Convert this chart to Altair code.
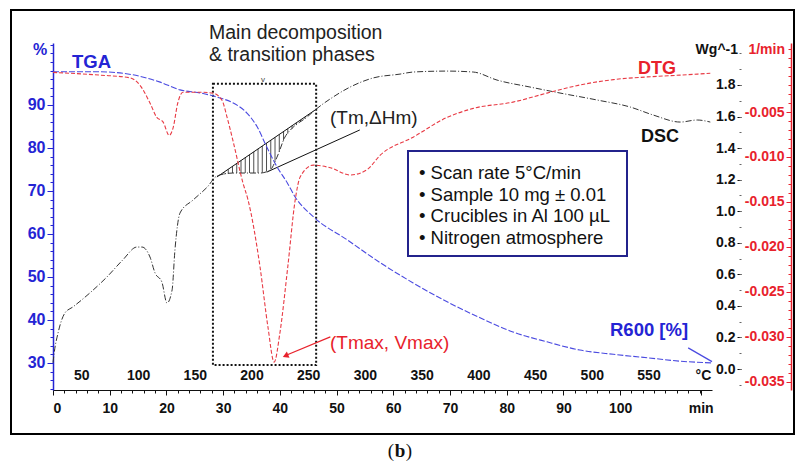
import altair as alt
import pandas as pd
import numpy as np

# ---------------- data ----------------
# TGA (% mass) vs time (min)
tga_time = [0, 8.3, 14.1, 18.9, 22.4, 25.9, 29.5, 31.7, 34.2, 36.0, 37.7, 39.5, 41.3, 42.7,
            45.9, 51.9, 57.7, 63.5, 69.5, 75.3, 81.1, 87.1, 92.9, 98.8, 104.8, 110.6, 116.2]
tga_pct = [97.7, 97.7, 97.0, 95.3, 93.5, 92.8, 91.6, 90.5, 88.1, 84.9, 80.2, 75.6, 71.9, 68.6,
           64.0, 58.6, 53.3, 48.6, 44.2, 40.5, 37.2, 34.9, 33.0, 32.0, 31.2, 30.4, 30.0]

# DTG (1/min) vs time (min)
dtg_time = [0, 8.3, 13.6, 15.3, 17.1, 18.3, 19.4, 20.5, 21.2, 22.0, 22.9, 25.9, 28.2, 29.8,
            30.7, 31.7, 33.5, 34.4, 36.5, 37.9, 39.0, 40.0, 41.4, 42.7, 43.6, 45.9, 48.9,
            52.4, 55.4, 57.7, 63.5, 69.5, 74.1, 81.1, 87.1, 92.9, 98.8, 104.8, 110.6, 115.9]
dtg_val = [-0.0006, -0.0009, -0.0012, -0.0020, -0.0040, -0.0056, -0.0061, -0.0076, -0.0067,
           -0.0040, -0.0028, -0.0028, -0.0029, -0.0037, -0.0056, -0.0081, -0.0129, -0.0148,
           -0.0222, -0.0289, -0.0328, -0.0296, -0.0222, -0.0148, -0.0122, -0.0109, -0.0112,
           -0.0120, -0.0114, -0.0098, -0.0078, -0.0056, -0.0046, -0.0039, -0.0029, -0.0020,
           -0.0014, -0.0011, -0.0009, -0.0007]

# DSC (W/g) vs time (min)
dsc_time = [0, 0.2, 0.9, 2.1, 3.5, 6.5, 9.5, 12.3, 14.8, 15.7, 17.1, 18.0, 19.2, 20.1, 21.0,
            21.5, 22.4, 24.7, 27.2, 28.9, 31.7, 36.5, 38.3, 39.5, 40.9, 42.2, 44.8, 46.2,
            49.4, 52.4, 56.4, 61.2, 63.5, 69.5, 74.1, 78.3, 84.1, 89.4, 95.9, 101.8, 105.8,
            110.6, 113.6, 115.9]
dsc_val = [0.04, 0.10, 0.23, 0.355, 0.393, 0.482, 0.583, 0.691, 0.773, 0.773, 0.710, 0.608,
           0.551, 0.418, 0.501, 0.754, 0.989, 1.071, 1.153, 1.223, 1.242, 1.242, 1.261, 1.343,
           1.470, 1.527, 1.597, 1.641, 1.724, 1.787, 1.844, 1.869, 1.882, 1.888, 1.882, 1.831,
           1.787, 1.749, 1.705, 1.660, 1.610, 1.565, 1.578, 1.565]

# tick labels
time_ticks = [0, 10, 20, 30, 40, 50, 60, 70, 80, 90, 100]
temp_ticks = [50, 100, 150, 200, 250, 300, 350, 400, 450, 500, 550]
pct_ticks = [30, 40, 50, 60, 70, 80, 90]
dsc_ticks = [0.0, 0.2, 0.4, 0.6, 0.8, 1.0, 1.2, 1.4, 1.6, 1.8]
dtg_ticks = [-0.005, -0.010, -0.015, -0.020, -0.025, -0.030, -0.035]

info_lines = ["\u2022 Scan rate 5\u00b0C/min", "\u2022 Sample 10 mg \u00b1 0.01",
              "\u2022 Crucibles in Al 100 \u00b5L", "\u2022 Nitrogen atmosphere"]

# tangent baseline for the melting peak (Tm, dHm)
base_time = [28.9, 46.2]
base_val = [1.217, 1.641]

# ---------------- layout / style ----------------
W, H = 659, 347
FONT = "Liberation Sans"
BLUE = "#2424d4"
TGA_C = "#4a4ae0"
RED = "#e8222c"
DTG_C = "#e83a44"
BLACK = "#111111"

T_DOM = [0, 116.2]
TEMP_DOM = [25, 25 + 5 * 116.2]
PCT_DOM = [23.7, 104.4]
DSC_DOM = [-0.133, 2.066]
DTG_DOM = [-0.0359, 0.00267]

def xs(dom=T_DOM):
    return alt.Scale(domain=dom, nice=False, zero=False)

def ys(dom):
    return alt.Scale(domain=dom, nice=False, zero=False)

tga_df = pd.DataFrame({"t": tga_time, "v": tga_pct})
dtg_df = pd.DataFrame({"t": dtg_time, "v": dtg_val})
dsc_df = pd.DataFrame({"t": dsc_time, "v": dsc_val})

# hatch lines between tangent baseline and DSC curve
hatch_t = np.arange(29.4, 45.0, 0.75)
hb = np.interp(hatch_t, base_time, base_val)
hc = np.interp(hatch_t, dsc_time, dsc_val)
mask = (hb - hc) > 0.006
hatch_df = pd.DataFrame({"t": hatch_t[mask], "b": hb[mask], "c": hc[mask]})
base_df = pd.DataFrame({"t": [base_time[0]], "t2": [base_time[1]],
                        "v": [base_val[0]], "v2": [base_val[1]]})

one = pd.DataFrame({"a": [0]})

# ---------------- main series ----------------
tga = alt.Chart(tga_df).mark_line(color=TGA_C, strokeWidth=1.1, strokeDash=[6, 2],
                                  interpolate="monotone").encode(
    x=alt.X("t:Q", scale=xs(), axis=alt.Axis(
        orient="bottom", values=time_ticks + [114.2],
        labelExpr="datum.value > 105 ? 'min' : datum.label",
        labelFont=FONT, labelFontSize=14, labelFontWeight="bold", labelColor=BLACK,
        domainColor=BLACK, tickColor=BLACK, tickSize=5, labelPadding=6,
        grid=False, title=None)),
    y=alt.Y("v:Q", scale=ys(PCT_DOM), axis=alt.Axis(
        orient="left", values=pct_ticks, labelFont=FONT, labelFontSize=16,
        labelFontWeight="bold", labelColor=BLUE, domainColor=BLUE, domainWidth=1.5,
        tickColor=BLUE, tickSize=6, labelPadding=2, grid=False, title=None)),
)

dtg = alt.Chart(dtg_df).mark_line(color=DTG_C, strokeWidth=1.1, strokeDash=[4, 2],
                                  interpolate="monotone").encode(
    x=alt.X("t:Q", scale=xs(), axis=None),
    y=alt.Y("v:Q", scale=ys(DTG_DOM), axis=alt.Axis(
        orient="left", offset=-738, values=dtg_ticks,
        labelExpr="replace(format(datum.value, '.3f'), '\u2212', '-')",
        labelFont=FONT, labelFontSize=14, labelFontWeight="bold", labelColor=RED,
        domainColor=RED, domainWidth=1.5, tickColor=RED, tickSize=5, labelPadding=2,
        grid=False, title=None)),
)

dsc = alt.Chart(dsc_df).mark_line(color="#333333", strokeWidth=1.0, strokeDash=[6, 2, 1, 2],
                                  interpolate="monotone").encode(
    x=alt.X("t:Q", scale=xs(), axis=None),
    y=alt.Y("v:Q", scale=ys(DSC_DOM), axis=alt.Axis(
        orient="left", offset=-688, values=dsc_ticks, format=".1f",
        labelFont=FONT, labelFontSize=14, labelFontWeight="bold", labelColor=BLACK,
        domain=False, tickColor=BLACK, tickSize=4, labelPadding=2,
        grid=False, title=None)),
)

# ---------------- extra axes (minor ticks, temperature) ----------------
def ghost(df_field_vals, axis_x=None, axis_y=None, xdom=T_DOM, ydom=PCT_DOM):
    d = pd.DataFrame({"v": df_field_vals})
    enc = {}
    if axis_x is not None:
        enc["x"] = alt.X("v:Q", scale=xs(xdom), axis=axis_x)
        enc["y"] = alt.Y("v:Q", scale=ys([-1e9, 1e9]), axis=None)
    else:
        enc["x"] = alt.X("v:Q", scale=xs([-1e9, 1e9]), axis=None)
        enc["y"] = alt.Y("v:Q", scale=ys(ydom), axis=axis_y)
    return alt.Chart(d).mark_point(opacity=0, size=1).encode(**enc)

temp_axis = ghost(temp_ticks, axis_x=alt.Axis(
    orient="top", offset=-H, values=temp_ticks + [598],
    labelExpr="datum.value > 580 ? '\u00b0C' : datum.label",
    labelFont=FONT, labelFontSize=14, labelFontWeight="bold", labelColor=BLACK,
    domain=False, ticks=False, labelPadding=8, grid=False, title=None), xdom=TEMP_DOM)

time_minor = ghost(time_ticks, axis_x=alt.Axis(
    orient="bottom", values=[float(v) for v in np.arange(0, 116, 2)], labels=False,
    domain=False, tickColor=BLACK, tickSize=3, grid=False, title=None))

pct_minor = ghost(pct_ticks, axis_y=alt.Axis(
    orient="left", values=[float(v) for v in np.arange(24, 105, 2)], labels=False,
    domain=False, tickColor=BLUE, tickSize=3, grid=False, title=None), ydom=PCT_DOM)

dsc_minor = ghost(dsc_ticks, axis_y=alt.Axis(
    orient="left", offset=-688, values=[round(v, 2) for v in np.arange(-0.1, 2.05, 0.1)],
    labels=False, domain=False, tickColor="#666666", tickSize=2, grid=False, title=None),
    ydom=DSC_DOM)

dtg_minor = ghost(dtg_ticks, axis_y=alt.Axis(
    orient="left", offset=-738, values=[round(v, 4) for v in np.arange(-0.035, 0.0026, 0.001)],
    labels=False, domain=False, tickColor=RED, tickSize=3, grid=False, title=None),
    ydom=DTG_DOM)

# ---------------- annotations ----------------
hatch = alt.Chart(hatch_df).mark_rule(color="#222222", strokeWidth=0.8).encode(
    x=alt.X("t:Q", scale=xs(), axis=None),
    y=alt.Y("b:Q", scale=ys(DSC_DOM), axis=None),
    y2="c:Q",
)
baseline = alt.Chart(base_df).mark_rule(color="#111111", strokeWidth=1).encode(
    x=alt.X("t:Q", scale=xs(), axis=None), x2="t2:Q",
    y=alt.Y("v:Q", scale=ys(DSC_DOM), axis=None), y2="v2:Q",
)
tm_leader = alt.Chart(pd.DataFrame({"t": [54.1], "t2": [37.7], "v": [1.515], "v2": [1.248]})).mark_rule(
    color="#111111", strokeWidth=1).encode(
    x=alt.X("t:Q", scale=xs(), axis=None), x2="t2:Q",
    y=alt.Y("v:Q", scale=ys(DSC_DOM), axis=None), y2="v2:Q",
)

box = alt.Chart(pd.DataFrame({"t": [28.2], "t2": [46.4], "v": [94.9], "v2": [29.5]})).mark_rect(
    filled=False, stroke="#111111", strokeWidth=2, strokeDash=[2, 2]).encode(
    x=alt.X("t:Q", scale=xs(), axis=None), x2="t2:Q",
    y=alt.Y("v:Q", scale=ys(PCT_DOM), axis=None), y2="v2:Q",
)

tmax_line = alt.Chart(pd.DataFrame({"t": [48.9], "t2": [40.9], "v": [-0.0300], "v2": [-0.0321]})).mark_rule(
    color=RED, strokeWidth=1.2).encode(
    x=alt.X("t:Q", scale=xs(), axis=None), x2="t2:Q",
    y=alt.Y("v:Q", scale=ys(DTG_DOM), axis=None), y2="v2:Q",
)
tmax_head = alt.Chart(pd.DataFrame({"t": [41.0], "v": [-0.0321]})).mark_point(
    shape="triangle-up", filled=True, color=RED, size=45, angle=247, opacity=1).encode(
    x=alt.X("t:Q", scale=xs(), axis=None),
    y=alt.Y("v:Q", scale=ys(DTG_DOM), axis=None),
)

r600_line = alt.Chart(pd.DataFrame({"t": [112.0], "t2": [116.2], "v": [33.5], "v2": [30.3]})).mark_rule(
    color=TGA_C, strokeWidth=1.2).encode(
    x=alt.X("t:Q", scale=xs(), axis=None), x2="t2:Q",
    y=alt.Y("v:Q", scale=ys(PCT_DOM), axis=None), y2="v2:Q",
)

def txt(s, x, y, size=16, color=BLACK, weight="normal", align="left", font=FONT, baseline="middle"):
    return alt.Chart(one).mark_text(
        text=s, font=font, fontSize=size, color=color, fontWeight=weight,
        align=align, baseline=baseline).encode(x=alt.value(x), y=alt.value(y))

info_box = alt.Chart(one).mark_rect(fill="white", stroke="#23238c", strokeWidth=2).encode(
    x=alt.value(355), x2=alt.value(574), y=alt.value(108), y2=alt.value(213))

frame = alt.Chart(one).mark_rect(filled=False, stroke="#000000", strokeWidth=2).encode(
    x=alt.value(-42), x2=alt.value(741), y=alt.value(-33), y2=alt.value(391))

texts = [
    txt("Main decomposition", 156, -10, size=19.5, color="#222222"),
    txt("& transition phases", 156, 12, size=19.5, color="#222222"),
    txt("v", 210, 37, size=8, color="#444444", align="center"),
    txt("TGA", 19, 19, size=18.5, color=BLUE, weight="bold"),
    txt("DTG", 585, 26, size=18, color=RED, weight="bold"),
    txt("DSC", 588, 94, size=18, color=BLACK, weight="bold"),
    txt("R600 [%]", 557, 287, size=18.5, color=BLUE, weight="bold"),
    txt("(Tm,\u0394Hm)", 277, 75, size=19, color="#222222"),
    txt("(Tmax, Vmax)", 277, 300, size=19, color=RED),
    txt("%", -13, 7, size=16, color=BLUE, weight="bold", align="center"),
    txt("Wg^-1", 685, 7, size=14, color=BLACK, weight="bold", align="right"),
    txt("1/min", 732, 7, size=14, color=RED, weight="bold", align="right"),
    txt("(", 338, 408, size=19, color=BLACK, font="Liberation Serif", align="center"),
    txt("b", 347, 408, size=19, color=BLACK, font="Liberation Serif", weight="bold", align="center"),
    txt(")", 356, 408, size=19, color=BLACK, font="Liberation Serif", align="center"),
]
for i, line in enumerate(info_lines):
    texts.append(txt(line, 366, 130 + i * 21.7, size=18.5, color="#111111"))

layers = [frame, box, hatch, baseline, tm_leader, tga, dsc, dtg,
          temp_axis, time_minor, pct_minor, dsc_minor, dtg_minor,
          tmax_line, tmax_head, r600_line, info_box] + texts

chart = alt.layer(*layers).resolve_scale(
    x="independent", y="independent"
).resolve_axis(
    x="independent", y="independent"
).properties(
    width=W, height=H,
    padding={"left": 45, "top": 35, "right": 83, "bottom": 73},
    autosize=alt.AutoSizeParams(type="none"),
    background="white",
).configure_view(stroke=None)

chart.save("out.html", embed_options={"renderer": "svg", "actions": False})
